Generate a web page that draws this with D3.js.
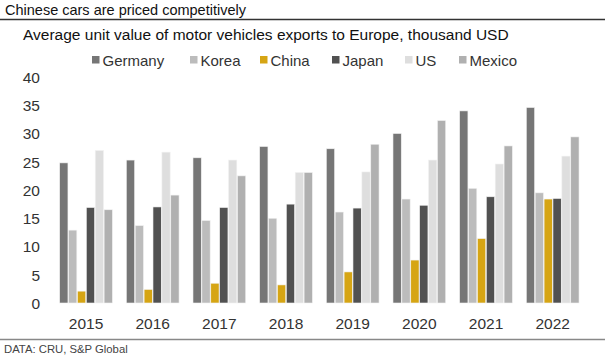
<!DOCTYPE html>
<html><head><meta charset="utf-8">
<script src="https://cdn.jsdelivr.net/npm/d3@7/dist/d3.min.js"></script>
<style>body{margin:0;background:#fff;}svg{display:block;font-family:"Liberation Sans",Arial,sans-serif;}</style>
</head><body><svg id="c" width="611" height="359"></svg>
<script>
const years = ["2015","2016","2017","2018","2019","2020","2021","2022"];
const seriesNames = ["Germany","Korea","China","Japan","US","Mexico"];
const colors = ["#767676","#bcbcbc","#d6a514","#515151","#dedede","#b0b0b0"];
const germany = [24.8,25.3,25.7,27.7,27.3,30.0,34.0,34.6];
const korea   = [12.9,13.7,14.6,15.0,16.1,18.4,20.3,19.5];
const china   = [2.1,2.4,3.5,3.2,5.5,7.6,11.4,18.4];
const japan   = [16.9,17.0,16.9,17.5,16.8,17.3,18.8,18.5];
const us      = [27.0,26.7,25.3,23.1,23.2,25.3,24.6,26.0];
const mexico  = [16.5,19.1,22.5,23.1,28.1,32.3,27.8,29.4];
const yTicks = [0,5,10,15,20,25,30,35,40];
const title = "Chinese cars are priced competitively";
const subtitle = "Average unit value of motor vehicles exports to Europe, thousand USD";
const source = "DATA: CRU, S&P Global";

const series = [germany,korea,china,japan,us,mexico];
const svg = d3.select("#c");

svg.append("text").attr("x",5).attr("y",15).attr("font-size",14.5).attr("fill","#111").text(title);
svg.append("line").attr("x1",0).attr("x2",605).attr("y1",19.5).attr("y2",19.5).attr("stroke","#333").attr("stroke-width",1.3);
svg.append("text").attr("x",23).attr("y",40).attr("font-size",15.5).attr("fill","#111").text(subtitle);

const x0 = d3.scaleBand().domain(years).range([52.7,586]).paddingInner(0.2).paddingOuter(0.1);
const x1 = d3.scaleBand().domain(seriesNames).range([0,x0.bandwidth()]);
const y = d3.scaleLinear().domain([0,40]).range([303,77]);

// y axis labels
const yAxis = d3.axisLeft(y).tickValues(yTicks).tickSize(0).tickPadding(0);
const ga = svg.append("g").attr("transform","translate(40,0)").call(yAxis);
ga.select(".domain").remove();
ga.selectAll("text").attr("font-size",15.5).attr("fill","#333").attr("font-family","Liberation Sans, Arial, sans-serif").attr("dy","0.35em");

// bars
const g = svg.append("g");
years.forEach((yr,i)=>{
  const gg = g.append("g").attr("transform",`translate(${x0(yr)},0)`);
  seriesNames.forEach((s,j)=>{
    const v = series[j][i];
    gg.append("rect").attr("x",x1(s)+0.3).attr("width",x1.bandwidth()-0.6)
      .attr("y",y(v)).attr("height",y(0)-y(v)).attr("fill",colors[j])
      .attr("stroke","#f2f2f2").attr("stroke-width",0.6);
  });
});

// x axis labels
const xAxis = d3.axisBottom(x0).tickSize(0).tickPadding(0);
const gx = svg.append("g").attr("transform","translate(0,318)").call(xAxis);
gx.select(".domain").remove();
gx.selectAll("text").attr("font-size",15.5).attr("fill","#333").attr("font-family","Liberation Sans, Arial, sans-serif").attr("dy","0.72em");

// legend
const legX = [92,190,260,332,405,459];
seriesNames.forEach((s,j)=>{
  svg.append("rect").attr("x",legX[j]).attr("y",56).attr("width",7.5).attr("height",7.5).attr("fill",colors[j]);
  svg.append("text").attr("x",legX[j]+10.5).attr("y",65.5).attr("font-size",15).attr("fill","#333").text(s);
});

svg.append("line").attr("x1",0).attr("x2",605).attr("y1",339.5).attr("y2",339.5).attr("stroke","#888").attr("stroke-width",1.3);
svg.append("text").attr("x",4).attr("y",353).attr("font-size",11.3).attr("fill","#444").text(source);
</script></body></html>
